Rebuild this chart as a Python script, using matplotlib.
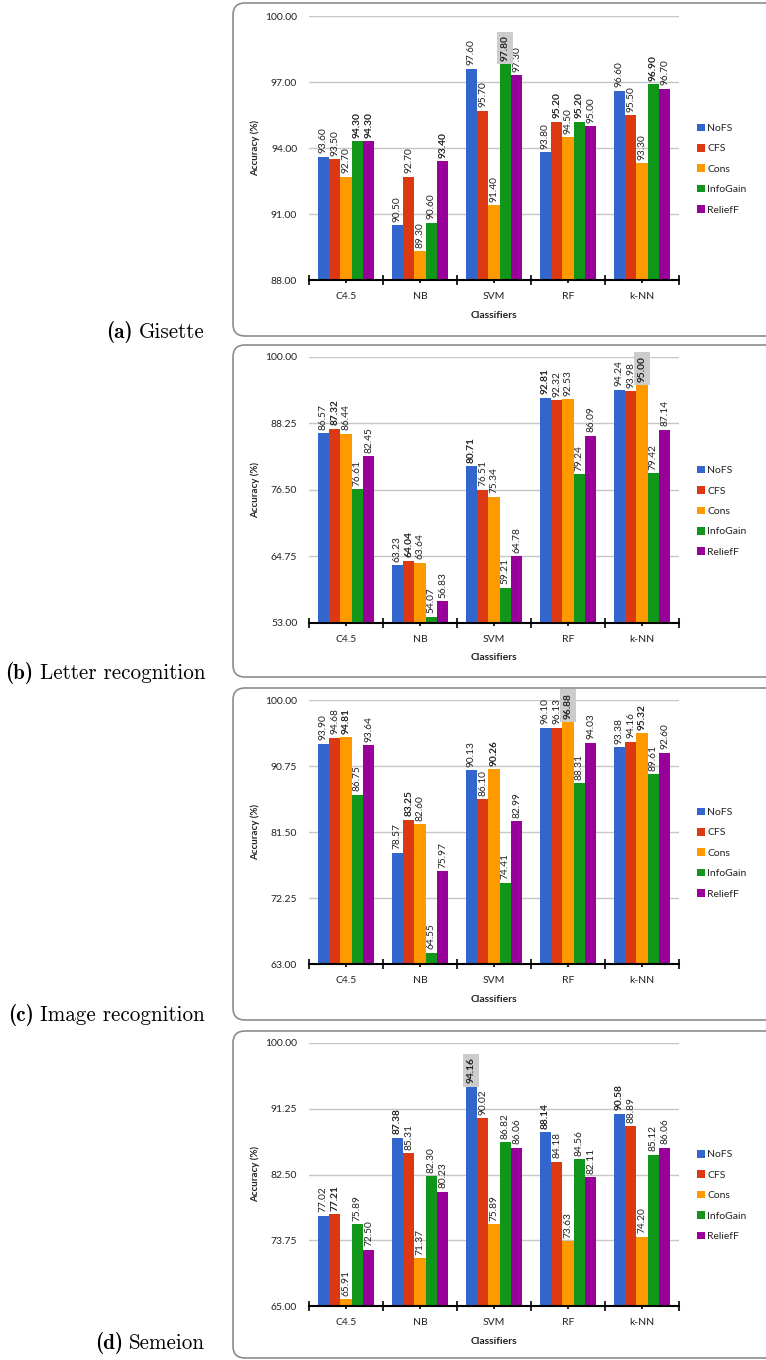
import matplotlib.pyplot as plt
import numpy as np
from matplotlib.patches import FancyBboxPatch
from matplotlib.transforms import IdentityTransform

W, H = 766, 1360

CLASSIFIERS = ["C4.5", "NB", "SVM", "RF", "k-NN"]
METHODS = ["NoFS", "CFS", "Cons", "InfoGain", "ReliefF"]
COLORS = ["#3366cc", "#dc3912", "#ff9900", "#109618", "#990099"]

# accuracy (%) per feature-selection method, one entry per classifier
gisette_nofs = [93.60, 90.50, 97.60, 93.80, 96.60]
gisette_cfs = [93.50, 92.70, 95.70, 95.20, 95.50]
gisette_cons = [92.70, 89.30, 91.40, 94.50, 93.30]
gisette_infogain = [94.30, 90.60, 97.80, 95.20, 96.90]
gisette_relieff = [94.30, 93.40, 97.30, 95.00, 96.70]

letter_nofs = [86.57, 63.23, 80.71, 92.81, 94.24]
letter_cfs = [87.32, 64.04, 76.51, 92.32, 93.98]
letter_cons = [86.44, 63.64, 75.34, 92.53, 95.00]
letter_infogain = [76.61, 54.07, 59.21, 79.24, 79.42]
letter_relieff = [82.45, 56.83, 64.78, 86.09, 87.14]

image_nofs = [93.90, 78.57, 90.13, 96.10, 93.38]
image_cfs = [94.68, 83.25, 86.10, 96.13, 94.16]
image_cons = [94.81, 82.60, 90.26, 96.88, 95.32]
image_infogain = [86.75, 64.55, 74.41, 88.31, 89.61]
image_relieff = [93.64, 75.97, 82.99, 94.03, 92.60]

semeion_nofs = [77.02, 87.38, 94.16, 88.14, 90.58]
semeion_cfs = [77.21, 85.31, 90.02, 84.18, 88.89]
semeion_cons = [65.91, 71.37, 75.89, 73.63, 74.20]
semeion_infogain = [75.89, 82.30, 86.82, 84.56, 85.12]
semeion_relieff = [72.50, 80.23, 86.06, 82.11, 86.06]

GISETTE_YLIM = (88.0, 100.0)
LETTER_YLIM = (53.0, 100.0)
IMAGE_YLIM = (63.0, 100.0)
SEMEION_YLIM = (65.0, 100.0)

plt.rcParams["font.family"] = ["Lato", "DejaVu Sans"]
TXT = "#222222"


def draw_box(fig, top, bottom, left=233, right=790):
    box = FancyBboxPatch(
        (left, H - bottom), right - left, bottom - top,
        boxstyle="round,pad=0,rounding_size=12",
        transform=IdentityTransform(), facecolor="none",
        edgecolor="#8c8c8c", linewidth=1.2,
    )
    fig.patches.append(box)


def draw_caption(fig, tag, name, baseline_y, size=15.2):
    # subfigure caption in Computer Modern: bold tag, roman name
    name_txt = fig.text(205 / W, 1 - baseline_y / H, name, ha="right", va="baseline",
                        fontsize=size, family="cmr10")
    plt.annotate(tag, xy=(0, 1 - baseline_y / H), xycoords=(name_txt, "figure fraction"),
                 xytext=(-4.5, 0), textcoords="offset points", ha="right", va="baseline",
                 fontsize=size, family="cmb10", annotation_clip=False)


def draw_panel(fig, values, ylim, top, bottom):
    x0, x1 = 309, 679
    ax = fig.add_axes([x0 / W, 1 - bottom / H, (x1 - x0) / W, (bottom - top) / H])
    h_px = bottom - top

    x = np.arange(len(CLASSIFIERS))
    width = 0.153
    values = np.array(values)
    best = values.max(axis=0)
    overall = values.max()

    for i, (name, col) in enumerate(zip(METHODS, COLORS)):
        pos = x + (i - 2) * width
        ax.bar(pos, values[i] - ylim[0], width, bottom=ylim[0], color=col, label=name, zorder=2)
        for xp, v, b in zip(pos, values[i], best):
            bold = np.isclose(v, b)
            top_box = np.isclose(v, overall)
            ax.annotate(
                f"{v:.2f}", (xp, v), xytext=(0, 2.5), textcoords="offset points",
                rotation=90, ha="center", va="bottom", fontsize=7.3, color=TXT,
                fontweight="bold" if bold else "normal",
                bbox=dict(boxstyle="square,pad=0.35", fc="#cccccc", ec="none") if top_box else None,
                zorder=5 if top_box else 4,
            )

    ax.set_xlim(-0.5, 4.5)
    ax.set_ylim(*ylim)
    ticks = np.linspace(ylim[0], ylim[1], 5)
    ax.set_yticks(ticks)
    ax.set_yticklabels([f"{t:.2f}" for t in ticks], fontsize=7.5, color=TXT)
    ax.tick_params(axis="y", length=0, pad=8.5)
    ax.set_xticks(x)
    ax.set_xticklabels(CLASSIFIERS, fontsize=7.5, color=TXT)
    ax.set_xticks(np.arange(-0.5, 5.0, 1.0), minor=True)
    ax.tick_params(axis="x", which="major", direction="out", length=2.5, width=1.2, pad=6)
    ax.tick_params(axis="x", which="minor", direction="inout", length=7, width=1.2)

    ax.grid(axis="y", color="#c6c6c6", linewidth=1.0, zorder=0)
    ax.set_axisbelow(True)
    for side in ("top", "right", "left"):
        ax.spines[side].set_visible(False)
    ax.spines["bottom"].set_linewidth(1.5)
    ax.spines["bottom"].set_zorder(3)

    ax.text((255 - x0) / (x1 - x0), 0.5, "Accuracy (%)", transform=ax.transAxes,
            rotation=90, ha="center", va="center", fontsize=7, fontweight="bold", color=TXT)
    ax.text(0.5, -35 / h_px, "Classifiers", transform=ax.transAxes,
            ha="center", va="center", fontsize=7.5, fontweight="bold", color=TXT)

    ax.legend(loc="center left", bbox_to_anchor=((697 - x0) / (x1 - x0), 0.42),
              frameon=False, fontsize=7.5, handlelength=0.75, handleheight=0.75,
              handletextpad=0.25, labelspacing=1.05, borderpad=0, borderaxespad=0,
              labelcolor=TXT)
    return ax


if __name__ == "__main__":
    fig = plt.figure(figsize=(W / 100, H / 100), dpi=100)

    draw_box(fig, 3, 336)
    draw_box(fig, 345, 677)
    draw_box(fig, 688, 1020)
    draw_box(fig, 1031, 1358)

    draw_panel(fig, [gisette_nofs, gisette_cfs, gisette_cons, gisette_infogain, gisette_relieff],
               GISETTE_YLIM, 16, 280)
    draw_panel(fig, [letter_nofs, letter_cfs, letter_cons, letter_infogain, letter_relieff],
               LETTER_YLIM, 357, 623)
    draw_panel(fig, [image_nofs, image_cfs, image_cons, image_infogain, image_relieff],
               IMAGE_YLIM, 700, 964)
    draw_panel(fig, [semeion_nofs, semeion_cfs, semeion_cons, semeion_infogain, semeion_relieff],
               SEMEION_YLIM, 1043, 1306)

    draw_caption(fig, "(a)", "Gisette", 338)
    draw_caption(fig, "(b)", "Letter recognition", 679)
    draw_caption(fig, "(c)", "Image recognition", 1021)
    draw_caption(fig, "(d)", "Semeion", 1349)

    fig.savefig("out.png", dpi=100, facecolor="white")
    plt.close(fig)
